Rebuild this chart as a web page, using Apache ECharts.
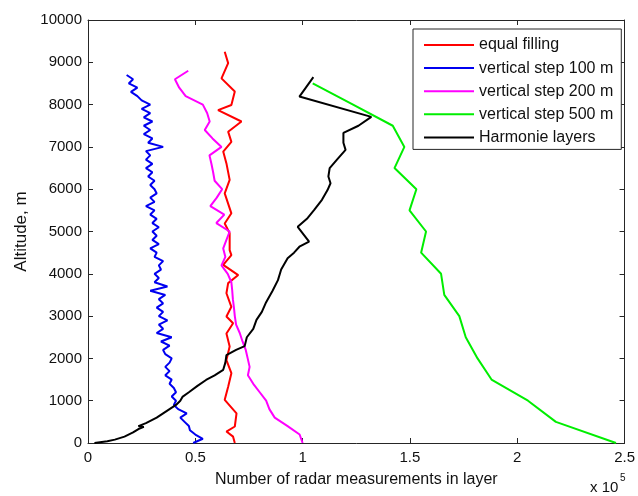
<!DOCTYPE html>
<html>
<head>
<meta charset="utf-8">
<script src="https://cdn.jsdelivr.net/npm/echarts@6/dist/echarts.min.js"></script>
<style>
  html, body { margin: 0; padding: 0; background: #fff; }
  #chart { width: 638px; height: 496px; }
</style>
</head>
<body>
<div id="chart"></div>
<script>
// measurement counts are in units of 10^5 (as on the axis)
const seriesNames = ['equal filling', 'vertical step 100 m', 'vertical step 200 m', 'vertical step 500 m', 'Harmonie layers']

// equal filling: irregular layer altitudes
const equalAlt = [0, 150, 270, 390, 700, 1020, 1330, 1650, 1960, 2280, 2590, 2830, 2990, 3220, 3540, 3780, 3970, 4210,
  4440, 4560, 4960, 5190, 5430, 5900, 6220, 6610, 6890, 7120, 7360, 7600, 7870, 7990, 8310, 8620, 8980, 9250]
const equalCount = [0.684, 0.676, 0.645, 0.684, 0.692, 0.637, 0.653, 0.668, 0.645, 0.66, 0.645, 0.676, 0.645, 0.668, 0.645, 0.653, 0.70, 0.63,
  0.668, 0.66, 0.66, 0.637, 0.668, 0.637, 0.66, 0.645, 0.63, 0.668, 0.653, 0.715, 0.606, 0.668, 0.684, 0.622, 0.653, 0.637]

// vertical step 100 m: 0 .. 8700 m
const step100Count = [
  0.49, 0.535, 0.50, 0.475, 0.47, 0.45, 0.43, 0.46, 0.42, 0.40,
  0.41, 0.39, 0.41, 0.40, 0.38, 0.39, 0.36, 0.38, 0.36, 0.38,
  0.39, 0.36, 0.35, 0.38, 0.34, 0.39, 0.32, 0.35, 0.33, 0.37,
  0.33, 0.35, 0.32, 0.35, 0.33, 0.36, 0.29, 0.37, 0.31, 0.33,
  0.31, 0.34, 0.33, 0.35, 0.31, 0.32, 0.29, 0.33, 0.30, 0.32,
  0.30, 0.33, 0.30, 0.32, 0.29, 0.31, 0.27, 0.31, 0.29, 0.32,
  0.31, 0.29, 0.31, 0.28, 0.30, 0.27, 0.30, 0.27, 0.29, 0.27,
  0.35, 0.28, 0.30, 0.26, 0.29, 0.26, 0.30, 0.26, 0.29, 0.25,
  0.29, 0.25, 0.23, 0.20, 0.23, 0.19, 0.21, 0.18
]

// vertical step 200 m: 0 .. 8800 m
const step200Count = [
  1.00, 0.986, 0.93, 0.87, 0.845, 0.83, 0.80, 0.77, 0.745, 0.753,
  0.744, 0.735, 0.72, 0.707, 0.69, 0.684, 0.68, 0.675, 0.672, 0.668,
  0.651, 0.622, 0.64, 0.63, 0.645, 0.66, 0.598, 0.635, 0.57, 0.60,
  0.625, 0.59, 0.583, 0.575, 0.566, 0.622, 0.58, 0.544, 0.567, 0.555,
  0.535, 0.455, 0.425, 0.405, 0.467
]

// vertical step 500 m: 0 .. 8500 m
const step500Count = [2.46, 2.18, 2.05, 1.88, 1.815, 1.76, 1.73, 1.66, 1.645, 1.552, 1.575, 1.498, 1.53, 1.428, 1.474, 1.42, 1.235, 1.047]

// Harmonie model layers
const harmAlt = [0, 40, 80, 150, 250, 330, 380, 400, 470, 600, 700, 800, 900, 1000, 1090, 1200, 1350, 1490, 1600, 1730, 1900, 2080,
  2200, 2290, 2500, 2700, 2910, 3100, 3330, 3600, 3850, 4100, 4370, 4500, 4640, 4760, 5110, 5300, 5510, 5750, 5980, 6140, 6300,
  6500, 6700, 6930, 7100, 7330, 7500, 7710, 8190, 8650]
const harmCount = [0.03, 0.09, 0.125, 0.17, 0.21, 0.235, 0.26, 0.235, 0.27, 0.32, 0.35, 0.38, 0.41, 0.43, 0.44, 0.47, 0.51, 0.55, 0.59, 0.63, 0.64, 0.645,
  0.69, 0.73, 0.74, 0.77, 0.785, 0.81, 0.83, 0.86, 0.885, 0.90, 0.93, 0.96, 0.985, 1.03, 0.977, 1.02, 1.054, 1.09, 1.116, 1.13, 1.12,
  1.126, 1.16, 1.20, 1.19, 1.19, 1.26, 1.32, 0.985, 1.05]

const colors = ['#ff0000', '#0000f0', '#ff00ff', '#00ee00', '#000000']
const font = '"Liberation Sans", Arial, sans-serif'
const axisColor = '#262626'

function pairs(counts, alts) {
  return counts.map((c, i) => [c, alts[i]])
}
function stepPairs(counts, step) {
  return counts.map((c, i) => [c, i * step])
}

const chartInstance = echarts.init(document.getElementById('chart'), null, { renderer: 'canvas' })

const xBase = {
  type: 'value',
  min: 0,
  max: 2.5,
  interval: 0.5,
  splitLine: { show: false },
  axisLine: { show: true, onZero: false, lineStyle: { color: axisColor, width: 1 } },
  axisTick: { show: true, inside: true, length: 5, lineStyle: { color: axisColor } }
}
const yBase = {
  type: 'value',
  min: 0,
  max: 10000,
  interval: 1000,
  splitLine: { show: false },
  axisLine: { show: true, onZero: false, lineStyle: { color: axisColor, width: 1 } },
  axisTick: { show: true, inside: true, length: 5, lineStyle: { color: axisColor } }
}

const option = {
  animation: false,
  backgroundColor: '#fff',
  textStyle: { fontFamily: font },
  grid: { left: 88, right: 13, top: 20, bottom: 53, containLabel: false },
  xAxis: [
    Object.assign({}, xBase, {
      position: 'bottom',
      name: 'Number of radar measurements in layer',
      nameLocation: 'middle',
      nameGap: 29,
      nameTextStyle: { fontSize: 16, color: '#111', fontFamily: font },
      axisLabel: { fontSize: 15, color: '#111', margin: 7, fontFamily: font, formatter: v => String(v) }
    }),
    Object.assign({}, xBase, { position: 'top', axisLabel: { show: false } })
  ],
  yAxis: [
    Object.assign({}, yBase, {
      position: 'left',
      name: 'Altitude, m',
      nameLocation: 'middle',
      nameGap: 57,
      nameTextStyle: { fontSize: 17, color: '#111', fontFamily: font },
      axisLabel: { fontSize: 15, color: '#111', margin: 6, fontFamily: font, formatter: v => String(v) }
    }),
    Object.assign({}, yBase, { position: 'right', axisLabel: { show: false } })
  ],
  legend: {
    orient: 'vertical',
    left: 413,
    top: 29,
    padding: [8, 8, 4, 10],
    itemWidth: 50,
    itemHeight: 14,
    itemGap: 7.1,
    backgroundColor: '#fff',
    borderColor: axisColor,
    borderWidth: 1,
    borderRadius: 0,
    itemStyle: { opacity: 0 },
    textStyle: { fontSize: 16, color: '#111', fontFamily: font },
    data: seriesNames
  },
  graphic: [
    {
      type: 'text',
      left: 590,
      top: 480,
      style: { text: 'x 10', fontSize: 15, fill: '#111', fontFamily: font }
    },
    {
      type: 'text',
      left: 620,
      top: 473,
      style: { text: '5', fontSize: 10, fill: '#111', fontFamily: font }
    }
  ],
  series: [
    { name: seriesNames[0], data: pairs(equalCount, equalAlt) },
    { name: seriesNames[1], data: stepPairs(step100Count, 100) },
    { name: seriesNames[2], data: stepPairs(step200Count, 200) },
    { name: seriesNames[3], data: stepPairs(step500Count, 500) },
    { name: seriesNames[4], data: pairs(harmCount, harmAlt) }
  ].map((s, i) => Object.assign(s, {
    type: 'line',
    xAxisIndex: 0,
    yAxisIndex: 0,
    symbol: 'none',
    color: colors[i],
    lineStyle: { color: colors[i], width: 2 },
    itemStyle: { color: colors[i] }
  }))
}

chartInstance.setOption(option)
</script>
</body>
</html>
